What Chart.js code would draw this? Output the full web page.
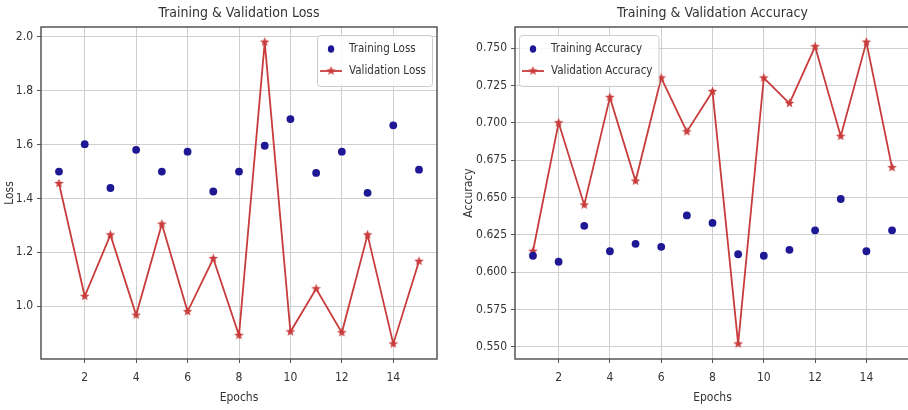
<!DOCTYPE html>
<html>
<head>
<meta charset="utf-8">
<script src="https://cdn.jsdelivr.net/npm/chart.js@4.4.0/dist/chart.umd.min.js"></script>
<style>
  html, body { margin: 0; padding: 0; background: #fff; overflow: hidden; width: 908px; height: 410px; }
  .panel { position: absolute; top: 0; }
  #lossPanel { left: 0; }
  #accPanel { left: 454px; }
</style>
</head>
<body>
<div class="panel" id="lossPanel"><canvas id="lossChart" width="454" height="410"></canvas></div>
<div class="panel" id="accPanel"><canvas id="accChart" width="476" height="410"></canvas></div>
<script>
// values
const epochs = [1, 2, 3, 4, 5, 6, 7, 8, 9, 10, 11, 12, 13, 14, 15];
const trainLoss = [1.50, 1.602, 1.439, 1.581, 1.50, 1.574, 1.426, 1.50, 1.596, 1.695, 1.495, 1.574, 1.421, 1.672, 1.507];
const valLoss = [1.456, 1.037, 1.265, 0.967, 1.305, 0.98, 1.177, 0.892, 1.981, 0.905, 1.065, 0.902, 1.265, 0.86, 1.167];
const trainAcc = [0.611, 0.607, 0.631, 0.614, 0.619, 0.617, 0.638, 0.633, 0.612, 0.611, 0.615, 0.628, 0.649, 0.614, 0.628];
const valAcc = [0.614, 0.700, 0.645, 0.717, 0.661, 0.730, 0.694, 0.721, 0.552, 0.730, 0.713, 0.751, 0.691, 0.754, 0.670];

const epochTicks = [2, 4, 6, 8, 10, 12, 14];
const lossTicks = [1.0, 1.2, 1.4, 1.6, 1.8, 2.0];
const accTicks = [0.550, 0.575, 0.600, 0.625, 0.650, 0.675, 0.700, 0.725, 0.750];

const FONT = "'DejaVu Sans Condensed', 'DejaVu Sans', sans-serif";
const DOT_COLOR = '#1f1895';
const LINE_COLOR = '#c93c3c';
const SPINE = '#555555';
const GRID = '#cfcfcf';
const TEXT = '#333333';

// matplotlib style 5% margins
function padRange(arrs) {
  const all = [].concat(...arrs);
  const lo = Math.min(...all), hi = Math.max(...all);
  const m = (hi - lo) * 0.05;
  return [lo - m, hi + m];
}

// filled star marker like matplotlib '*'
function makeStar(color) {
  const c = document.createElement('canvas');
  c.width = 11; c.height = 11;
  const ctx = c.getContext('2d');
  ctx.fillStyle = color;
  ctx.beginPath();
  for (let i = 0; i < 10; i++) {
    const r = i % 2 === 0 ? 5 : 2.1;
    const a = -Math.PI / 2 + i * Math.PI / 5;
    const px = 5.5 + r * Math.cos(a), py = 5.5 + r * Math.sin(a);
    if (i === 0) ctx.moveTo(px, py); else ctx.lineTo(px, py);
  }
  ctx.closePath();
  ctx.fill();
  return c;
}
const star = makeStar(LINE_COLOR);

// box around the plot area + title centred over the axes
const framePlugin = {
  id: 'frame',
  beforeDatasetsDraw(chart) {
    const { ctx, chartArea: a } = chart;
    ctx.save();
    ctx.strokeStyle = SPINE;
    ctx.lineWidth = 1.5;
    ctx.strokeRect(a.left, a.top, a.right - a.left, a.bottom - a.top);
    ctx.restore();
  },
  afterDraw(chart, args, opts) {
    const { ctx, chartArea: a } = chart;
    ctx.save();
    ctx.font = '14px ' + FONT;
    ctx.fillStyle = TEXT;
    ctx.textAlign = 'center';
    ctx.textBaseline = 'middle';
    ctx.fillText(opts.text, (a.left + a.right) / 2, 13);
    ctx.restore();
  }
};

// legend drawn inside the axes, matplotlib style
const innerLegend = {
  id: 'innerLegend',
  afterDraw(chart, args, opts) {
    const { ctx, chartArea: a } = chart;
    const ds = chart.data.datasets;
    ctx.save();
    ctx.font = '11.5px ' + FONT;
    const textW = Math.max(...ds.map(d => ctx.measureText(d.label).width));
    const w = 32 + textW + 6;
    const h = 51;
    const x = opts.side === 'right' ? a.right - opts.inset - w : a.left + opts.inset;
    const y = a.top + 8;
    ctx.fillStyle = 'rgba(255,255,255,0.85)';
    ctx.strokeStyle = '#cccccc';
    ctx.lineWidth = 1;
    ctx.beginPath();
    ctx.roundRect(x + 0.5, y + 0.5, w, h, 3);
    ctx.fill();
    ctx.stroke();

    // training: dot
    ctx.fillStyle = DOT_COLOR;
    ctx.beginPath();
    ctx.ellipse(x + 14, y + 14, 3.2, 3.8, 0, 0, Math.PI * 2);
    ctx.fill();
    // validation: line with star
    ctx.strokeStyle = LINE_COLOR;
    ctx.lineWidth = 1.8;
    ctx.beginPath();
    ctx.moveTo(x + 3, y + 36);
    ctx.lineTo(x + 25, y + 36);
    ctx.stroke();
    ctx.drawImage(star, x + 14 - 5.5, y + 36 - 5.5);

    ctx.fillStyle = TEXT;
    ctx.textBaseline = 'middle';
    ctx.fillText(ds[0].label, x + 32, y + 14);
    ctx.fillText(ds[1].label, x + 32, y + 36);
    ctx.restore();
  }
};

function buildChart(canvasId, o) {
  const yRange = padRange([o.train, o.val]);
  return new Chart(document.getElementById(canvasId), {
    type: 'scatter',
    data: {
      datasets: [
        {
          label: o.trainLabel,
          data: epochs.map((e, i) => ({ x: e, y: o.train[i] })),
          showLine: false,
          pointRadius: 3.9,
          pointBackgroundColor: DOT_COLOR,
          pointBorderWidth: 0
        },
        {
          label: o.valLabel,
          data: epochs.map((e, i) => ({ x: e, y: o.val[i] })),
          showLine: true,
          borderColor: LINE_COLOR,
          borderWidth: 1.8,
          pointStyle: star,
          tension: 0
        }
      ]
    },
    options: {
      responsive: false,
      animation: false,
      layout: { padding: { left: 0, right: o.rightPad, top: 27, bottom: 0 } },
      plugins: {
        legend: { display: false },
        tooltip: { enabled: false },
        title: { display: false },
        frame: { text: o.title },
        innerLegend: { side: o.legendSide, inset: o.legendInset }
      },
      scales: {
        x: {
          type: 'linear',
          min: 0.3,
          max: 15.7,
          afterBuildTicks: s => { s.ticks = epochTicks.map(v => ({ value: v })); },
          afterFit: s => { s.height = 51; },
          grid: { color: GRID, tickColor: SPINE, tickLength: 4 },
          border: { display: false },
          ticks: { color: TEXT, font: { family: FONT, size: 12 }, padding: 8 },
          title: {
            display: true, text: 'Epochs', color: TEXT,
            font: { family: FONT, size: 12 }, padding: { top: 0, bottom: 5 }
          }
        },
        y: {
          type: 'linear',
          min: yRange[0],
          max: yRange[1],
          afterBuildTicks: s => { s.ticks = o.ticks.map(v => ({ value: v })); },
          afterFit: s => { s.width = o.yWidth; },
          grid: { color: GRID, tickColor: SPINE, tickLength: 4 },
          border: { display: false },
          ticks: {
            color: TEXT, font: { family: FONT, size: 12 }, padding: 4,
            callback: v => v.toFixed(o.decimals)
          },
          title: {
            display: true, text: o.yTitle, color: TEXT,
            font: { family: FONT, size: 12 }, padding: { top: o.yTitlePad, bottom: 0 }
          }
        }
      }
    },
    plugins: [framePlugin, innerLegend]
  });
}

buildChart('lossChart', {
  title: 'Training & Validation Loss',
  yTitle: 'Loss',
  trainLabel: 'Training Loss',
  valLabel: 'Validation Loss',
  train: trainLoss,
  val: valLoss,
  ticks: lossTicks,
  decimals: 1,
  yWidth: 41,
  yTitlePad: 3,
  rightPad: 17,
  legendSide: 'right',
  legendInset: 5
});

buildChart('accChart', {
  title: 'Training & Validation Accuracy',
  yTitle: 'Accuracy',
  trainLabel: 'Training Accuracy',
  valLabel: 'Validation Accuracy',
  train: trainAcc,
  val: valAcc,
  ticks: accTicks,
  decimals: 3,
  yWidth: 61,
  yTitlePad: 8,
  rightPad: 20,
  legendSide: 'left',
  legendInset: 4
});
</script>
</body>
</html>
